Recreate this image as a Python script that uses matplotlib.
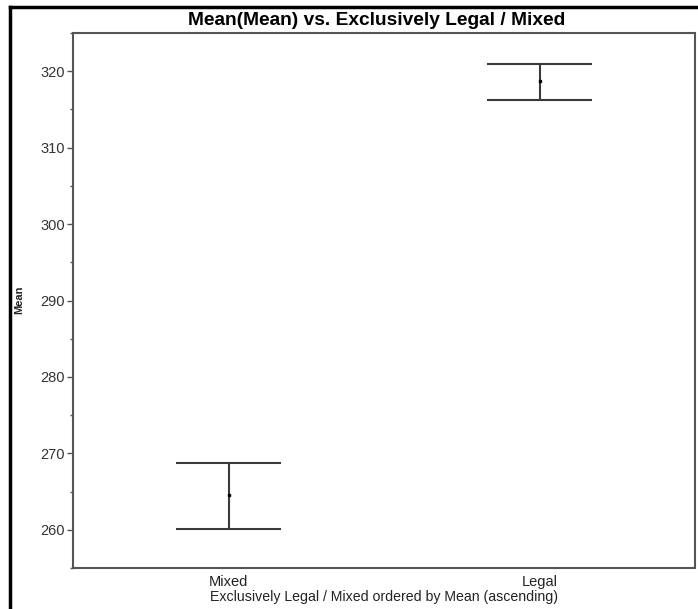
import matplotlib
matplotlib.use("Agg")
import matplotlib.pyplot as plt
from matplotlib.lines import Line2D
from matplotlib.ticker import MultipleLocator

plt.rcParams['font.family'] = ['Liberation Sans', 'DejaVu Sans']

categories = ["Mixed", "Legal"]
means = [264.5, 318.7]
lower = [260.1, 316.2]
upper = [268.7, 321.0]

W, H = 698, 609
fig = plt.figure(figsize=(W / 100, H / 100), dpi=100)
ax = fig.add_axes([73 / W, 1 - 568 / H, (695 - 73) / W, (568 - 33) / H])

# outer frame (top and left)
fig.add_artist(Line2D([10 / W, 1.0], [1 - 7 / H, 1 - 7 / H], transform=fig.transFigure,
                      color='black', lw=2.5))
fig.add_artist(Line2D([10 / W, 10 / W], [0, 1 - 7 / H], transform=fig.transFigure,
                      color='black', lw=2.5))

line_col = '#3a3a3a'
cap_half = 0.168
for i, (m, lo, hi) in enumerate(zip(means, lower, upper)):
    ax.vlines(i, lo, hi, color=line_col, lw=1.5)
    ax.hlines([lo, hi], i - cap_half, i + cap_half, color=line_col, lw=1.5)
    ax.plot([i], [m], marker='s', ms=2, color='black', ls='none')

ax.set_xlim(-0.5, 1.5)
ax.set_ylim(255, 325)
ax.set_xticks(range(len(categories)))
ax.set_xticklabels(categories)
ax.yaxis.set_major_locator(MultipleLocator(10))
ax.yaxis.set_minor_locator(MultipleLocator(5))

for s in ax.spines.values():
    s.set_color('#555555')
    s.set_linewidth(1.5)

ax.tick_params(axis='y', which='major', length=4, width=1, color='#555555',
               labelsize=10.5, labelcolor='#333333', pad=2)
ax.tick_params(axis='y', which='minor', length=2.5, width=1, color='#555555')
ax.tick_params(axis='x', which='both', length=0, labelsize=10.5, labelcolor='#222222', pad=5)

fig.text(377 / W, 1 - 25 / H, "Mean(Mean) vs. Exclusively Legal / Mixed",
         fontsize=13.8, fontweight='bold', ha='center', va='baseline')
ax.set_xlabel("Exclusively Legal / Mixed ordered by Mean (ascending)", fontsize=10.2,
              color='#222222', labelpad=1)
fig.text(19 / W, 1 - 300 / H, "Mean", fontsize=8, fontweight='bold', color='#222222',
         rotation=90, ha='center', va='center')

fig.savefig("out.png", dpi=100)
